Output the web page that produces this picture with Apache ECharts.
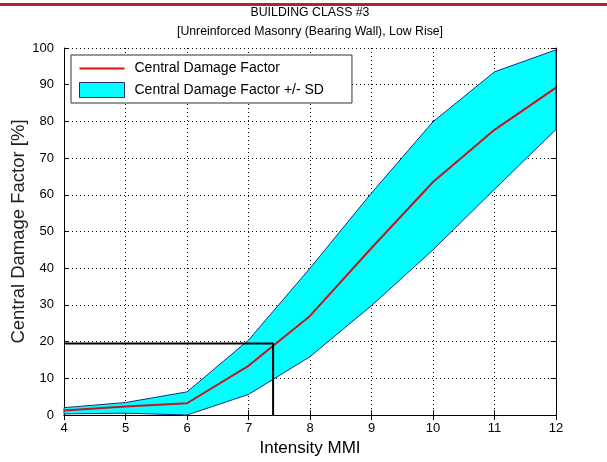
<!DOCTYPE html>
<html>
<head>
<meta charset="utf-8">
<script src="https://cdn.jsdelivr.net/npm/echarts@6/dist/echarts.min.js"></script>
<style>
  html, body { margin: 0; padding: 0; background: #fff; }
  #chart { width: 607px; height: 462px; }
</style>
</head>
<body>
<div id="chart"></div>
<script>
// MMI intensity
const mmi = [4, 5, 6, 7, 8, 9, 10, 11, 12]
// central damage factor [%]
const central = [1.2, 2.3, 3.2, 13.4, 27, 45.5, 63.5, 77.7, 89.2]
// +/- SD band
const upper = [2.0, 3.4, 6.3, 20.4, 40, 60.5, 79.9, 93.5, 99.5]
const lower = [0.3, 0.5, 0, 5.6, 15.9, 29.8, 45, 61.5, 77.8]
// reading at MMI 7.4
const refX = [4, 7.4, 7.4]
const refY = [19.5, 19.5, 0]

const font = 'Liberation Sans, Arial, sans-serif'

const chart = echarts.init(document.getElementById('chart'))

// band polygon: upper edge forward, lower edge back
const bandData = mmi.map((x, i) => [x, upper[i], lower[i]])

// flat line icon for the legend (thin strip inside a 45x15 box)
const lineIcon = 'path://M0,0L45,0L45,0.01L0,0.01Z M0,6.5L45,6.5L45,8.5L0,8.5Z M0,15L45,15L45,15.01L0,15.01Z'

const option = {
  animation: false,
  textStyle: { fontFamily: font },
  graphic: [
    { type: 'rect', shape: { x: 0, y: 3, width: 607, height: 3 }, style: { fill: '#b51f3a' } }
  ],
  title: {
    text: 'BUILDING CLASS #3\n[Unreinforced Masonry (Bearing Wall), Low Rise]',
    left: 310,
    top: 3,
    padding: 0,
    textAlign: 'center',
    textStyle: { fontFamily: font, fontSize: 12.3, fontWeight: 'normal', color: '#000', lineHeight: 19 }
  },
  legend: {
    orient: 'vertical',
    left: 71,
    top: 55,
    padding: [6, 28, 5, 8],
    itemGap: 6,
    itemWidth: 45,
    itemHeight: 15,
    borderColor: '#333',
    borderWidth: 1,
    backgroundColor: '#fff',
    textStyle: { fontFamily: font, fontSize: 14, color: '#000', padding: [0, 0, 0, 5] },
    data: [
      { name: 'Central Damage Factor', icon: lineIcon, itemStyle: { color: '#e01010' } },
      { name: 'Central Damage Factor +/- SD', icon: 'rect', itemStyle: { color: '#00ffff', borderColor: '#1a2a80', borderWidth: 1 } }
    ]
  },
  grid: { left: 64, right: 51, top: 48, bottom: 47, outerBoundsMode: 'none' },
  xAxis: [
    {
      type: 'value', min: 4, max: 12, interval: 1,
      name: 'Intensity MMI', nameLocation: 'middle', nameGap: 25, nameMoveOverlap: false,
      nameTextStyle: { fontFamily: font, fontSize: 17, color: '#000' },
      axisLine: { lineStyle: { color: '#000', width: 1 } },
      axisTick: { inside: true, length: 5, lineStyle: { color: '#000' } },
      axisLabel: { color: '#000', fontSize: 13, margin: 7, fontFamily: font },
      splitLine: { show: true, lineStyle: { color: '#000', type: [1, 3], width: 1 } }
    },
    {
      type: 'value', min: 4, max: 12, interval: 1, position: 'top',
      axisLine: { lineStyle: { color: '#000', width: 1 } },
      axisTick: { inside: true, length: 5, lineStyle: { color: '#000' } },
      axisLabel: { show: false },
      splitLine: { show: false }
    }
  ],
  yAxis: [
    {
      type: 'value', min: 0, max: 100, interval: 10,
      name: 'Central Damage Factor [%]', nameLocation: 'middle', nameGap: 36, nameMoveOverlap: false,
      nameTextStyle: { fontFamily: font, fontSize: 18.5, color: '#222' },
      axisLine: { show: true, lineStyle: { color: '#000', width: 1 } },
      axisTick: { show: true, inside: true, length: 5, lineStyle: { color: '#000' } },
      axisLabel: { color: '#000', fontSize: 13, margin: 10, fontFamily: font },
      splitLine: { show: true, lineStyle: { color: '#000', type: [1, 3], width: 1 } }
    },
    {
      type: 'value', min: 0, max: 100, interval: 10, position: 'right',
      axisLine: { show: true, lineStyle: { color: '#000', width: 1 } },
      axisTick: { show: true, inside: true, length: 5, lineStyle: { color: '#000' } },
      axisLabel: { show: false },
      splitLine: { show: false }
    }
  ],
  series: [
    {
      name: 'Central Damage Factor +/- SD',
      type: 'custom',
      z: 2,
      itemStyle: { color: '#00ffff', borderColor: '#1a2a80', borderWidth: 1 },
      data: bandData,
      encode: { x: 0, y: [1, 2] },
      renderItem: (params, api) => {
        if (params.dataIndex !== 0) return
        const top = bandData.map(d => api.coord([d[0], d[1]]))
        const bottom = bandData.map(d => api.coord([d[0], d[2]])).reverse()
        return {
          type: 'polygon',
          shape: { points: top.concat(bottom) },
          style: { fill: '#00ffff', stroke: '#1a2a80', lineWidth: 1 }
        }
      }
    },
    {
      name: 'Central Damage Factor',
      type: 'line',
      z: 3,
      symbol: 'none',
      lineStyle: { color: '#c8141c', width: 2 },
      itemStyle: { color: '#c8141c' },
      data: mmi.map((x, i) => [x, central[i]])
    },
    {
      name: 'ref',
      type: 'line',
      z: 4,
      symbol: 'none',
      lineStyle: { color: '#000', width: 2 },
      data: refX.map((x, i) => [x, refY[i]])
    }
  ]
}

chart.setOption(option)
</script>
</body>
</html>
